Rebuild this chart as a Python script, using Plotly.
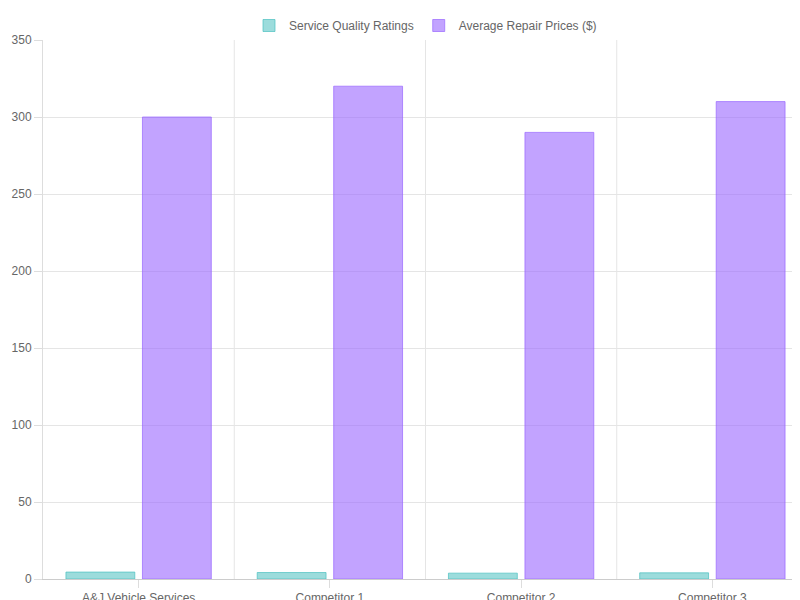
import plotly.graph_objects as go

categories = ["A&J Vehicle Services", "Competitor 1", "Competitor 2", "Competitor 3"]
quality = [4.5, 4.2, 3.8, 4.0]
prices = [300, 320, 290, 310]

fig = go.Figure()
fig.add_trace(go.Bar(name="Service Quality Ratings", x=categories, y=quality,
                     marker=dict(color="rgba(75,192,192,0.55)", line=dict(color="rgba(75,192,192,0.7)", width=1))))
fig.add_trace(go.Bar(name="Average Repair Prices ($)", x=categories, y=prices,
                     marker=dict(color="rgba(153,102,255,0.6)", line=dict(color="rgba(153,102,255,0.7)", width=1))))

fig.update_layout(
    width=800, height=600, barmode="group", bargap=0.2, bargroupgap=0.1,
    paper_bgcolor="white", plot_bgcolor="white",
    margin=dict(l=35, r=0, t=32, b=29, autoexpand=False),
    font=dict(family="Liberation Sans, Arial", size=12, color="#666"),
    legend=dict(orientation="h", x=0.5, xanchor="center", y=0.995, yanchor="top",
                yref="container", font=dict(size=12, color="#666")),
    xaxis=dict(showgrid=False, showline=True, linecolor="#ccc", ticks="outside",
               ticklen=8, tickcolor="#ddd", automargin=False),
    yaxis=dict(range=[0, 350], dtick=50, gridcolor="#e5e5e5", showline=True,
               linecolor="#ddd", ticks="outside", ticklen=8, tickcolor="#ddd",
               zeroline=False, automargin=False),
)
# vertical category separators like the reference grid
for i in range(len(categories) - 1):
    fig.add_vline(x=i + 0.5, line=dict(color="#e5e5e5", width=1))
fig.write_html("out.html")
